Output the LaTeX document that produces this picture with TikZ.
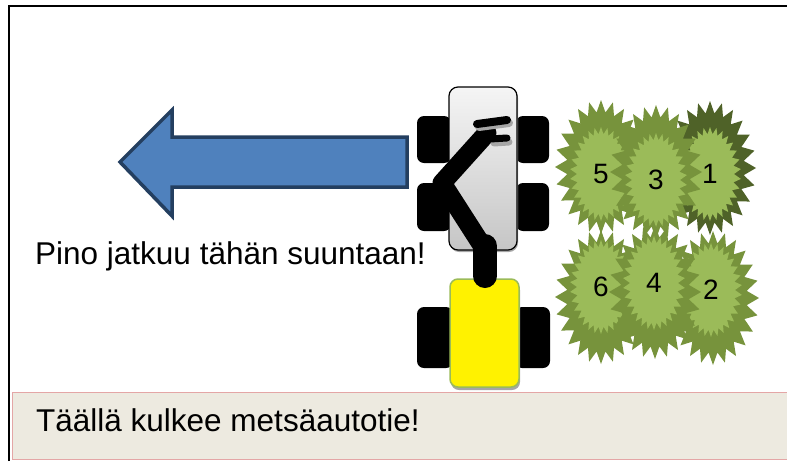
\documentclass[tikz,border=0pt]{standalone}
\usepackage{fontspec}
\setmainfont{Liberation Sans}
\usepackage{xcolor}
\usepackage{tikz}
\usetikzlibrary{positioning,shapes.symbols,shadows}
\definecolor{ArrowBlue}{RGB}{79,129,189}
\definecolor{ArrowEdge}{RGB}{36,63,96}
\definecolor{BushDark}{RGB}{119,147,60}
\definecolor{BushDeep}{RGB}{79,98,40}
\definecolor{BushLight}{RGB}{155,187,89}
\definecolor{RoadFill}{RGB}{237,234,224}
\definecolor{RoadEdge}{RGB}{228,166,166}
\tikzset{
    wheel/.style={rectangle, fill=black, rounded corners=7pt, inner sep=0pt},
    bushout/.style={starburst, random starburst=0, starburst points=24, starburst point height=12pt, fill=BushDark, minimum width=92pt, minimum height=134pt, inner sep=0pt},
    bushin/.style={starburst, random starburst=0, starburst points=30, starburst point height=7pt, fill=BushLight, minimum width=62pt, minimum height=94pt, inner sep=0pt, font=\fontsize{28}{32}\selectfont}
}

\begin{document}
\begin{tikzpicture}[
    x=1pt, y=-1pt,
    % Style for the big arrow
    bigarrow/.style={fill=ArrowBlue, draw=ArrowEdge, line width=3.5pt, line join=miter},
    % Style for the crane arm
    crane/.style={draw=black, line cap=round, line join=round},
    bigtext/.style={inner sep=0pt, font=\fontsize{31.5}{36}\selectfont}
]
\useasboundingbox (0,0) rectangle (787,461);

% --- FRAME ---
\draw[line width=2pt] (9,461) -- (9,6) -- (787,6);

% --- ARROW ---
\draw[bigarrow] (407,137) -- (172,137) -- (172,110) -- (120,162) -- (172,216) -- (172,187) -- (407,187) -- cycle;
\node[bigtext, anchor=base west] (pino) at (35,264) {Pino jatkuu tähän suuntaan!};

% --- MACHINE ---
% wheels behind the frame
\node[wheel, minimum width=34pt, minimum height=47pt] (wFL) at (434,139.5) {};
\node[wheel, minimum width=33pt, minimum height=47pt] (wFR) at (532.5,139.5) {};
\node[wheel, minimum width=34pt, minimum height=48pt] (wML) at (434,207) {};
\node[wheel, minimum width=33pt, minimum height=48pt] (wMR) at (532.5,207) {};
\node[wheel, minimum width=36pt, minimum height=61pt] (wRL) at (435,337.5) {};
\node[wheel, minimum width=35pt, minimum height=61pt] (wRR) at (532.5,337.5) {};

% load frame (grey)
\node[rectangle, rounded corners=9pt, draw=black, line width=1.2pt, top color=gray!8, bottom color=gray!45,
      minimum width=68pt, minimum height=163pt, drop shadow={shadow xshift=1pt, shadow yshift=-2pt, fill=gray!70, opacity=1}] (load) at (483,168.5) {};
% cab (yellow)
\node[rectangle, rounded corners=8pt, draw=BushLight, line width=1.5pt, fill=yellow,
      minimum width=69pt, minimum height=108pt, drop shadow={shadow xshift=1pt, shadow yshift=-3pt, fill=gray!70, opacity=1}] (cab) at (484.5,333) {};

% crane
\draw[crane, line width=24pt] (485,276) -- (485,246);
\draw[crane, line width=19pt] (485,250) -- (442,183) -- (487,133);
\draw[crane, gray!70, line width=8pt] (479,127) -- (509,123);
\draw[crane, gray!70, line width=7pt] (494,143) -- (509,142);
\draw[crane, line width=8pt] (477,124) -- (507,120);
\draw[crane, line width=7pt] (490,139) -- (507,138);

% --- BUSHES ---
\node[bushout, fill=BushDeep] (b1) at (710,168) {};
\node[bushin] (b1in) at (710,174) {1};
\node[bushout] (b5) at (601,167) {};
\node[bushin] (b5in) at (601,174) {5};
\node[bushout] (b3) at (656,172) {};
\node[bushin] (b3in) at (656,180) {3};
\node[bushout] (b2) at (713,298) {};
\node[bushin] (b2in) at (711,290) {2};
\node[bushout] (b6) at (601,297) {};
\node[bushin] (b6in) at (601,287) {6};
\node[bushout] (b4) at (655,292) {};
\node[bushin] (b4in) at (654,283) {4};

% --- ROAD ---
\node[rectangle, anchor=north west, fill=RoadFill, draw=RoadEdge, line width=1pt,
      minimum width=790pt, minimum height=67pt] (road) at (12,392) {};
\node[bigtext, anchor=base west] (roadtext) at (36,431) {Täällä kulkee metsäautotie!};

\end{tikzpicture}
\end{document}
